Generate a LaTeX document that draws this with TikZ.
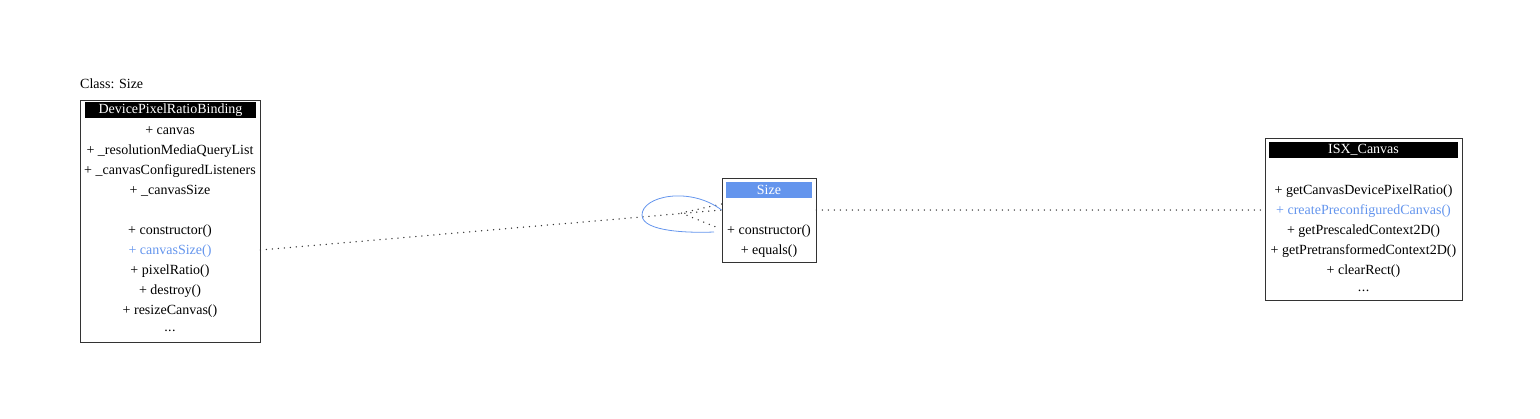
\documentclass[tikz,border=0pt]{standalone}
\usepackage{fontspec}
\setmainfont{Liberation Serif}
\usetikzlibrary{positioning}
\definecolor{umlblue}{RGB}{100,149,237}
\tikzset{
  classbox/.style={draw=black!80, line width=0.9pt, inner sep=0pt},
  headbar/.style={fill=black, text=white, font=\fontsize{14}{16}\selectfont, inner sep=0pt, minimum height=16pt},
  member/.style={inner sep=0pt, font=\fontsize{14}{16}\selectfont},
  link/.style={line width=1.5pt, black!80, line cap=round, dash pattern=on 0pt off 6pt},
}
\begin{document}
\begin{tikzpicture}[x=1pt,y=-1pt]
    \useasboundingbox (0,0) rectangle (1540,418);

    % Klasse links
    \node[member,anchor=west] (title) at (80,84) {Class: Size};
    \node[classbox,minimum width=180pt,minimum height=242pt] (dpr) at (170,221) {};
    \node[headbar,minimum width=171pt] (dprhead) at (170.5,110) {DevicePixelRatioBinding};
    \foreach \txt [count=\i] in {+ canvas, + \_resolutionMediaQueryList,
        + \_canvasConfiguredListeners, + \_canvasSize} {
        \node[member] (dpr-a\i) at (170,111+20*\i) {\txt};
    }
    \foreach \txt [count=\i] in {+ constructor(), {\color{umlblue}+ canvasSize()},
        + pixelRatio(), + destroy(), + resizeCanvas()} {
        \node[member] (dpr-m\i) at (170,211+20*\i) {\txt};
    }
    \node[member] (dpr-more) at (170,331) {.\kern0.5pt.\kern0.5pt.};

    % Klasse Size
    \node[classbox,minimum width=94pt,minimum height=84pt] (size) at (769,220) {};
    \node[headbar,fill=umlblue,minimum width=86pt] (sizehead) at (769,190) {Size};
    \node[member] (size-m1) at (769,231) {+ constructor()};
    \node[member] (size-m2) at (769,251) {+ equals()};

    % Klasse ISX_Canvas
    \node[classbox,minimum width=197pt,minimum height=162pt] (isx) at (1363.5,219) {};
    \node[headbar,minimum width=189pt] (isxhead) at (1363.5,150) {ISX\_Canvas};
    \foreach \txt [count=\i] in {+ getCanvasDevicePixelRatio(),
        {\color{umlblue}+ createPreconfiguredCanvas()},
        + getPrescaledContext2D(), + getPretransformedContext2D(),
        + clearRect()} {
        \node[member] (isx-m\i) at (1363.5,171+20*\i) {\txt};
    }
    \node[member] (isx-more) at (1363.5,291) {.\kern0.5pt.\kern0.5pt.};

    % Verbindungen
    \coordinate (selfA) at (size.west |- 0,204);
    \coordinate (selfB) at (716,227);
    \coordinate (selfC) at (681,213);
    \draw[link] (dpr.east |- 0,250) -- (size.west |- 0,210);
    \draw[link] (selfA) -- (selfC) -- (selfB);
    \draw[link] (size.east |- 0,210) -- (isx.west |- 0,210);
    \draw[umlblue,line width=0.8pt] (size.west |- 0,210)
        .. controls (690,186) and (642,196) .. (642,215)
        .. controls (642,232) and (690,233) .. (714,232);
\end{tikzpicture}
\end{document}
